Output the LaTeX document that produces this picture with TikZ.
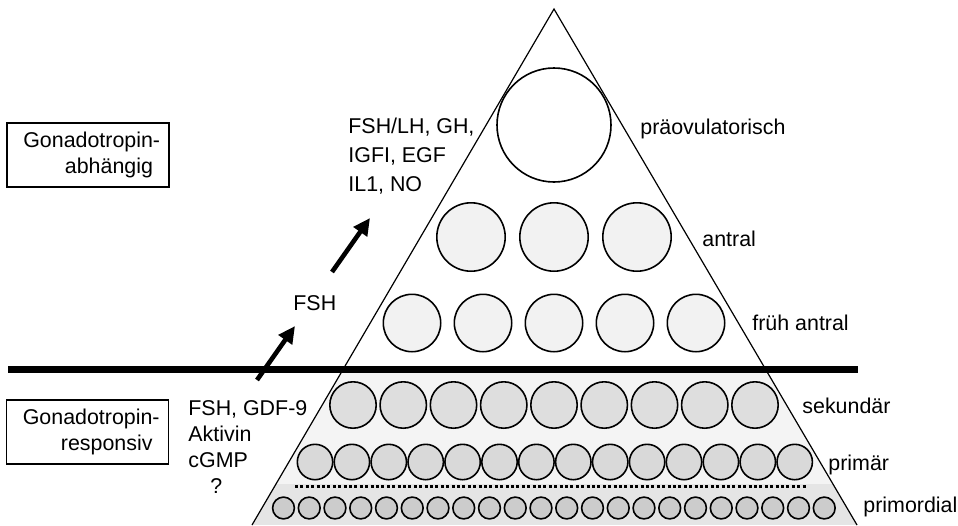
\documentclass[tikz,border=0pt]{standalone}
\usepackage{fontspec}
\setmainfont{Liberation Sans}
\usetikzlibrary{arrows.meta}
\definecolor{topfill}{gray}{0.955}
\definecolor{bandfill}{gray}{0.90}
\definecolor{antfill}{gray}{0.95}
\definecolor{sekfill}{gray}{0.87}
\definecolor{prifill}{gray}{0.85}
\definecolor{prmfill}{gray}{0.80}

\begin{document}
\begin{tikzpicture}[x=0.5pt, y=-0.5pt,
    lbl/.style={font=\fontsize{10.7}{13}\selectfont, inner sep=0pt, anchor=base west},
    foll/.style={circle, draw, line width=0.8pt, inner sep=0pt},
    stagebox/.style={rectangle, draw, line width=0.6pt, minimum width=81pt,
                minimum height=32pt, text width=65pt, align=right,
                font=\fontsize{10.7}{13}\selectfont},
    fsharrow/.style={-{Triangle[length=8.5pt,width=8pt]}, line width=2.3pt}
]
\useasboundingbox (0,0) rectangle (958,525);
\coordinate (apex) at (554,9);
\coordinate (baseL) at (252,525);
\coordinate (baseR) at (857,525);

% shaded lower part of the pyramid
\begin{scope}
\clip (apex) -- (baseL) -- (baseR) -- cycle;
\fill[topfill] (0,369) rectangle (958,525);
\fill[bandfill] (0,484) rectangle (958,525);
\end{scope}
\draw[line width=0.6pt] (baseL) -- (apex) -- (baseR);

% follicles
\node[foll, fill=white, minimum size=57pt] (pre) at (554,125) {};
\foreach \i in {1,...,3}
  \node[foll, fill=antfill, minimum size=34.2pt] (ant\i) at ({471+83*(\i-1)},237) {};
\foreach \i in {1,...,5}
  \node[foll, fill=antfill, minimum size=28.7pt] (fa\i) at ({412+71*(\i-1)},323) {};
\foreach \i in {1,...,9}
  \node[foll, fill=sekfill, minimum size=23.2pt] (sek\i) at ({353+50.25*(\i-1)},405) {};
\foreach \i in {1,...,14}
  \node[foll, fill=prifill, minimum size=17.7pt] (pri\i) at ({315+36.9*(\i-1)},462) {};
\foreach \i in {1,...,22}
  \node[foll, fill=prmfill, minimum size=10.9pt] (prm\i) at ({283.5+25.75*(\i-1)},508) {};

% dotted and thick separators
\coordinate (dotL) at (295,486);
\coordinate (dotR) at (808,486);
\draw[line width=1.5pt, dash pattern=on 1.5pt off 1.2pt] (dotL) -- (dotR);
\coordinate (sepL) at (8,369);
\coordinate (sepR) at (858,369);
\draw[line width=3.5pt] (sepL) -- (sepR);

% stage names
\node[lbl] (tpre) at (640,134) {präovulatorisch};
\node[lbl] (tant) at (702,246) {antral};
\node[lbl] (tfa) at (752,330) {früh antral};
\node[lbl] (tsek) at (802,413) {sekundär};
\node[lbl] (tpri) at (828,470) {primär};
\node[lbl] (tprm) at (863,512) {primordial};

% factors and arrows
\node[lbl, align=left, font=\fontsize{10.7}{14.5}\selectfont] (late) at (348,191)
  {FSH/LH, GH,\\IGFI, EGF\\IL1, NO};
\node[lbl] (fsh) at (293,310) {FSH};
\node[lbl, align=left] (early) at (188,493)
  {FSH, GDF-9\\Aktivin\\cGMP\\\hspace*{11pt}?};
\coordinate (a1s) at (257,380);
\coordinate (a1e) at (295,326);
\coordinate (a2s) at (332,272);
\coordinate (a2e) at (370,218);
\draw[fsharrow] (a1s) -- (a1e);
\draw[fsharrow] (a2s) -- (a2e);

% left boxes
\node[stagebox] (dep) at (88,155) {Gonadotropin\rlap{-}\\abhängig};
\node[stagebox] (resp) at (87.5,432) {Gonadotropin\rlap{-}\\responsiv};
\end{tikzpicture}
\end{document}
